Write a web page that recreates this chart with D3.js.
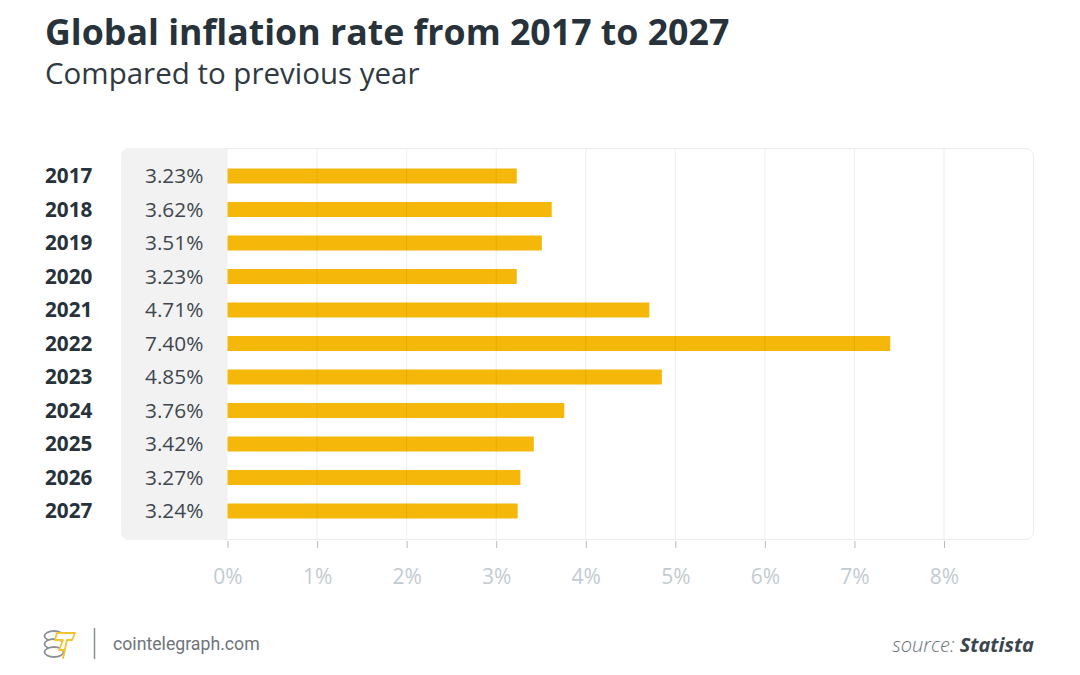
<!DOCTYPE html>
<html><head><meta charset="utf-8">
<script src="https://cdn.jsdelivr.net/npm/d3@7/dist/d3.min.js"></script>
<style>
html,body{margin:0;padding:0;background:#fff;}
svg{display:block;font-family:"Open Sans",sans-serif;}
</style></head>
<body>
<svg id="chart" width="1080" height="675"></svg>
<script>
const years = ["2017","2018","2019","2020","2021","2022","2023","2024","2025","2026","2027"];
const rates = [3.23,3.62,3.51,3.23,4.71,7.40,4.85,3.76,3.42,3.27,3.24];
const tickValues = [0,1,2,3,4,5,6,7,8];
const titleText = "Global inflation rate from 2017 to 2027";
const subtitleText = "Compared to previous year";

const svg = d3.select("#chart");
const panel = {x0:121, x1:1034, y0:148, y1:540};
const x = d3.scaleLinear().domain([0,8]).range([227.5,944]);
const y = d3.scalePoint().domain(years).range([176,511]);

// title
svg.append("text").attr("x",45).attr("y",45).attr("font-size",35.7).attr("font-weight",700)
  .attr("fill","#27323a").text(titleText);
svg.append("text").attr("x",45).attr("y",84).attr("font-size",29.5).attr("font-weight",400)
  .attr("fill","#2f3a42").text(subtitleText);

// panel
svg.append("rect").attr("x",panel.x0+0.5).attr("y",panel.y0+0.5)
  .attr("width",panel.x1-panel.x0-1).attr("height",panel.y1-panel.y0-1)
  .attr("rx",8).attr("fill","#fff").attr("stroke","#ececec");
const clip = svg.append("clipPath").attr("id","pc");
clip.append("rect").attr("x",panel.x0).attr("y",panel.y0).attr("width",panel.x1-panel.x0).attr("height",panel.y1-panel.y0).attr("rx",8);
svg.append("rect").attr("clip-path","url(#pc)").attr("x",panel.x0).attr("y",panel.y0)
  .attr("width",x(0)-panel.x0).attr("height",panel.y1-panel.y0).attr("fill","#f2f2f2");

// bars
svg.append("g").selectAll("rect").data(years).join("rect")
  .attr("x",x(0)).attr("y",d=>y(d)-7.5)
  .attr("width",(d,i)=>x(rates[i])-x(0)).attr("height",15).attr("fill","#f5b80a");

// gridlines
svg.append("g").selectAll("line").data(tickValues.slice(1)).join("line")
  .attr("x1",d=>x(d)).attr("x2",d=>x(d)).attr("y1",panel.y0+1).attr("y2",panel.y1-1)
  .attr("stroke","#000").attr("stroke-opacity",0.07).attr("stroke-width",1);

// axis
const axis = d3.axisBottom(x).tickValues(tickValues).tickSize(7).tickPadding(21).tickFormat(d=>d+"%");
const ag = svg.append("g").attr("transform",`translate(0,${panel.y1+1})`).call(axis);
ag.select(".domain").remove();
ag.selectAll(".tick line").attr("stroke","#b8bcc0");
ag.selectAll(".tick text").attr("fill","#c3cbd1").attr("font-size",21).attr("font-family","Open Sans");

// year labels
svg.append("g").selectAll("text").data(years).join("text")
  .attr("x",45).attr("y",d=>y(d)).attr("dy","0.35em")
  .attr("font-size",20.7).attr("font-weight",700).attr("fill","#27323a").text(d=>d);
// value labels
svg.append("g").selectAll("text").data(years).join("text")
  .attr("x",145).attr("y",d=>y(d)).attr("dy","0.35em")
  .attr("font-size",20.8).attr("fill","#3e474f").text((d,i)=>rates[i].toFixed(2)+"%");

// footer logo
const logo = svg.append("g").attr("transform","translate(44,630)");
[0,8,16].forEach(dy=>{
  logo.append("ellipse").attr("cx",10).attr("cy",6+dy).attr("rx",9.5).attr("ry",5).attr("fill","#fff").attr("stroke","#8a9095").attr("stroke-width",1.8);
});
logo.append("path").attr("d","M13,3 L31,3 L28,10 L23,10 L19,28 L21,20 L15,20 L19,10 L11,10 Z")
  .attr("fill","#fff").attr("stroke","#f2c230").attr("stroke-width",1.8).attr("stroke-linejoin","round");
svg.append("line").attr("x1",94.5).attr("x2",94.5).attr("y1",628).attr("y2",659).attr("stroke","#8a8f94").attr("stroke-width",1.5);
svg.append("text").attr("x",113).attr("y",650).attr("font-family","Roboto").attr("font-size",17.7).attr("fill","#6e747a").text("cointelegraph.com");

const src = svg.append("text").attr("x",1034).attr("y",652).attr("text-anchor","end").attr("font-size",20).attr("font-style","italic");
src.append("tspan").attr("fill","#6b7278").attr("font-weight",300).text("source: ");
src.append("tspan").attr("fill","#3a454e").attr("font-weight",700).text("Statista");
</script>
</body></html>
